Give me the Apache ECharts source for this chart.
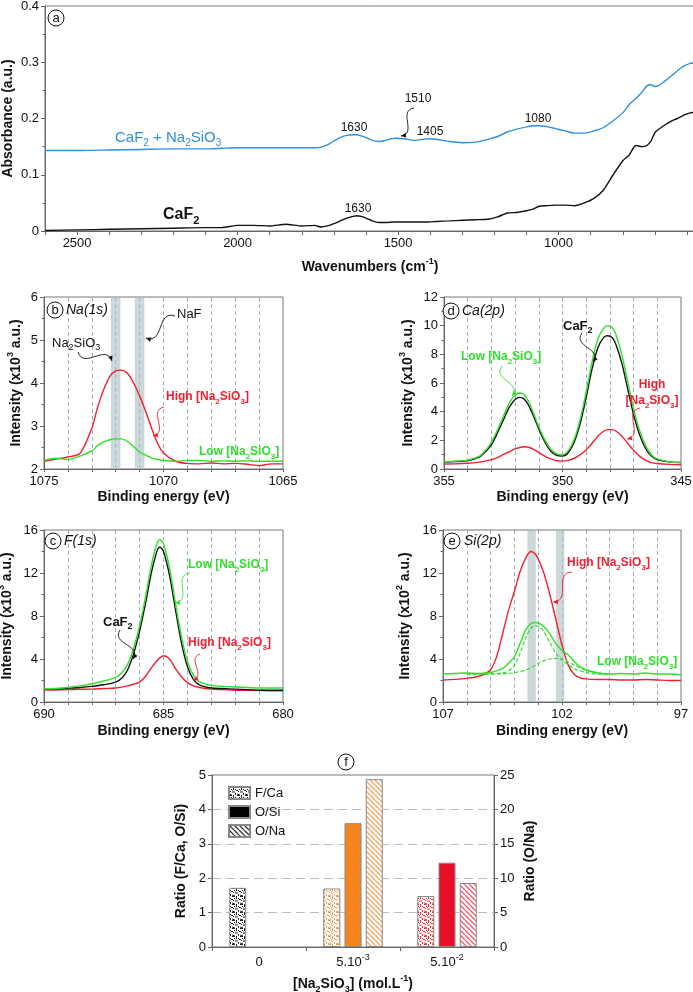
<!DOCTYPE html>
<html>
<head>
<meta charset="UTF-8">
<script src="https://cdn.jsdelivr.net/npm/echarts@6/dist/echarts.min.js"></script>
<style>
  html, body { margin: 0; padding: 0; background: #fff; }
  #main { width: 693px; height: 992px; }
</style>
</head>
<body>
<div id="main"></div>
<script>
// ---- panel a : FTIR ----
var a_wn = [2600, 2500, 2400, 2300, 2200, 2100, 2050, 2000, 1950, 1900, 1850, 1800, 1760, 1740, 1720, 1700, 1680, 1660, 1640, 1630, 1615, 1600, 1580, 1560, 1540, 1510, 1480, 1450, 1420, 1405, 1380, 1340, 1300, 1260, 1220, 1190, 1160, 1130, 1100, 1080, 1060, 1040, 1010, 980, 950, 920, 890, 860, 830, 800, 780, 760, 740, 725, 712, 700, 690, 670, 650, 630, 610, 590, 575];
var a_blue = [0.143, 0.143, 0.144, 0.145, 0.146, 0.146, 0.147, 0.148, 0.148, 0.148, 0.148, 0.148, 0.148, 0.149, 0.153, 0.160, 0.166, 0.170, 0.171, 0.171, 0.169, 0.166, 0.161, 0.159, 0.161, 0.165, 0.164, 0.161, 0.163, 0.164, 0.163, 0.159, 0.157, 0.158, 0.163, 0.168, 0.176, 0.181, 0.185, 0.187, 0.187, 0.186, 0.182, 0.178, 0.174, 0.174, 0.178, 0.184, 0.196, 0.210, 0.225, 0.235, 0.247, 0.258, 0.260, 0.257, 0.258, 0.266, 0.275, 0.285, 0.293, 0.298, 0.300];
var a_black = [0.001, 0.002, 0.003, 0.004, 0.005, 0.006, 0.006, 0.010, 0.010, 0.009, 0.012, 0.009, 0.010, 0.007, 0.009, 0.013, 0.018, 0.023, 0.026, 0.027, 0.026, 0.023, 0.018, 0.015, 0.015, 0.016, 0.016, 0.016, 0.016, 0.016, 0.017, 0.018, 0.019, 0.020, 0.021, 0.025, 0.032, 0.033, 0.036, 0.039, 0.044, 0.045, 0.046, 0.046, 0.045, 0.050, 0.058, 0.073, 0.100, 0.125, 0.135, 0.152, 0.150, 0.152, 0.160, 0.175, 0.180, 0.188, 0.195, 0.200, 0.206, 0.210, 0.211];
var a_labels = [2500, 2000, 1500, 1000];
var a_ticks = [2600, 2500, 2400, 2300, 2200, 2100, 2000, 1900, 1800, 1700, 1600, 1500, 1400, 1300, 1200, 1100, 1000, 900, 800, 700, 600];

// ---- panel b : Na(1s) ----
var b_e = [1075, 1074.5, 1074, 1073.5, 1073, 1072.75, 1072.5, 1072.25, 1072, 1071.75, 1071.5, 1071.25, 1071, 1070.75, 1070.5, 1070.25, 1070, 1069.5, 1069, 1068.5, 1068, 1067.5, 1067, 1066.5, 1066, 1065.5, 1065];
var b_high = [2.18, 2.23, 2.28, 2.36, 2.95, 3.45, 3.85, 4.15, 4.28, 4.30, 4.22, 4.0, 3.7, 3.35, 2.95, 2.6, 2.37, 2.18, 2.13, 2.12, 2.14, 2.12, 2.13, 2.11, 2.08, 2.12, 2.12];
var b_low = [2.2, 2.25, 2.22, 2.3, 2.42, 2.55, 2.63, 2.68, 2.70, 2.70, 2.64, 2.52, 2.4, 2.32, 2.26, 2.22, 2.2, 2.18, 2.2, 2.2, 2.18, 2.19, 2.18, 2.19, 2.18, 2.18, 2.18];
var b_bands = [[1072.2, 1071.8], [1071.2, 1070.8]];
var b_labels = [1075, 1070, 1065];

// ---- panel d : Ca(2p) ----
var d_e = [355, 354.5, 354, 353.5, 353.25, 353, 352.75, 352.5, 352.25, 352, 351.8, 351.6, 351.4, 351.2, 351, 350.75, 350.5, 350.25, 350, 349.75, 349.5, 349.25, 349, 348.75, 348.5, 348.25, 348.1, 347.9, 347.75, 347.5, 347.25, 347, 346.75, 346.5, 346.25, 346, 345.5, 345];
var d_caf2 = [0.5, 0.52, 0.58, 0.85, 1.2, 1.7, 2.5, 3.4, 4.3, 4.85, 5.0, 4.85, 4.35, 3.6, 2.8, 1.9, 1.25, 0.95, 0.9, 1.15, 1.9, 3.2, 5.0, 7.0, 8.5, 9.2, 9.3, 9.15, 8.7, 7.4, 5.6, 3.8, 2.4, 1.45, 0.9, 0.65, 0.5, 0.45];
var d_low = [0.5, 0.55, 0.62, 0.9, 1.3, 1.85, 2.7, 3.65, 4.6, 5.15, 5.3, 5.15, 4.6, 3.8, 2.95, 2.05, 1.4, 1.05, 1.0, 1.3, 2.1, 3.5, 5.4, 7.5, 9.1, 9.85, 10.0, 9.85, 9.4, 8.0, 6.1, 4.2, 2.7, 1.65, 1.0, 0.7, 0.5, 0.45];
var d_high = [0.35, 0.36, 0.4, 0.48, 0.55, 0.65, 0.8, 1.0, 1.2, 1.4, 1.5, 1.55, 1.5, 1.35, 1.15, 0.9, 0.7, 0.58, 0.55, 0.6, 0.75, 1.0, 1.35, 1.8, 2.3, 2.65, 2.75, 2.75, 2.65, 2.3, 1.8, 1.3, 0.9, 0.62, 0.45, 0.38, 0.32, 0.3];
var d_labels = [355, 350, 345];

// ---- panel c : F(1s) ----
var c_e = [690, 689.5, 689, 688.5, 688, 687.5, 687, 686.75, 686.5, 686.25, 686, 685.75, 685.5, 685.25, 685.15, 685, 684.75, 684.5, 684.25, 684, 683.75, 683.5, 683, 682.5, 682, 681.5, 681, 680.5, 680];
var c_caf2 = [1.2, 1.22, 1.28, 1.35, 1.45, 1.6, 1.85, 2.2, 3.0, 4.5, 6.6, 9.2, 12.1, 14.2, 14.4, 14.0, 11.8, 8.6, 5.5, 3.3, 2.1, 1.6, 1.3, 1.25, 1.2, 1.15, 1.1, 1.1, 1.1];
var c_low = [1.2, 1.25, 1.35, 1.5, 1.7, 1.95, 2.3, 2.7, 3.5, 5.0, 7.1, 9.8, 12.8, 14.9, 15.1, 14.7, 12.5, 9.2, 6.1, 3.8, 2.5, 1.9, 1.55, 1.45, 1.4, 1.35, 1.3, 1.3, 1.3];
var c_high = [1.1, 1.12, 1.15, 1.18, 1.2, 1.25, 1.3, 1.38, 1.5, 1.65, 1.85, 2.4, 3.2, 3.9, 4.1, 4.3, 4.0, 3.1, 2.35, 1.8, 1.5, 1.35, 1.2, 1.15, 1.1, 1.1, 1.08, 1.05, 1.05];
var c_labels = [690, 685, 680];

// ---- panel e : Si(2p) ----
var e_e = [107, 106.5, 106, 105.5, 105.25, 105, 104.75, 104.5, 104.25, 104, 103.75, 103.5, 103.3, 103.1, 102.9, 102.75, 102.5, 102.25, 102, 101.75, 101.5, 101.25, 101, 100.5, 100, 99.5, 99, 98.5, 98, 97.5, 97];
var e_high = [2.05, 2.1, 2.2, 2.4, 2.6, 3.0, 4.2, 6.3, 8.5, 10.3, 12.2, 13.5, 14.0, 13.7, 12.8, 11.9, 9.9, 7.6, 5.3, 3.5, 2.6, 2.25, 2.15, 2.1, 2.1, 2.05, 2.05, 2.1, 2.05, 2.0, 2.0];
var e_low = [2.6, 2.65, 2.7, 2.65, 2.7, 2.75, 2.9, 3.1, 3.6, 4.2, 5.5, 6.8, 7.3, 7.4, 7.25, 7.0, 6.3, 5.4, 4.8, 4.4, 3.8, 3.3, 3.0, 2.7, 2.6, 2.65, 2.6, 2.7, 2.6, 2.6, 2.5];
var e_de = [106, 105.5, 105, 104.5, 104.25, 104, 103.75, 103.5, 103.25, 103.1, 102.9, 102.75, 102.5, 102.25, 102, 101.75, 101.5, 101, 100.5, 100];
var e_fit1 = [2.6, 2.6, 2.62, 2.7, 2.9, 3.4, 4.6, 6.1, 7.0, 7.1, 6.9, 6.5, 5.5, 4.5, 3.9, 3.5, 3.1, 2.75, 2.6, 2.6];
var e_fit2 = [2.6, 2.6, 2.6, 2.62, 2.65, 2.72, 2.85, 3.0, 3.25, 3.45, 3.7, 3.85, 4.0, 4.05, 4.0, 3.75, 3.45, 2.95, 2.7, 2.6];
var e_bands = [[103.45, 103.1], [102.25, 101.9]];
var e_labels = [107, 102, 97];

// ---- panel f : ratios ----
var f_cat = ['0', '5.10^-3', '5.10^-2'];
var f_FCa = [1.72, 1.70, 1.48];
var f_OSi = [null, 3.6, 2.45];
var f_ONa = [null, 24.4, 9.3];

var FONT = 'Liberation Sans, Arial, Helvetica, sans-serif';
var BLUE = '#2f8fd8', RED = '#f0202f', GREEN = '#2fe02a', DASH = '#9fb0bd';

// rich text: _x subscript, ^x superscript
function mk(str) {
    var out = '{n|' + str.replace(/([_^])(-?\d)/g, function (m, t, d) {
        return '}{' + (t === '_' ? 's' : 'p') + '|' + d + '}{n|';
    }) + '}';
    return out.replace(/\{n\|\}/g, '');
}
function rich(size, color, weight, fstyle) {
    var lh = Math.round(size * 1.4);
    var base = { fontFamily: FONT, fontWeight: weight || 'normal', fontStyle: fstyle || 'normal', color: color, fill: color, lineHeight: lh };
    return {
        n: Object.assign({}, base, { fontSize: size, verticalAlign: 'middle' }),
        s: Object.assign({}, base, { fontSize: Math.round(size * 0.66), verticalAlign: 'bottom' }),
        p: Object.assign({}, base, { fontSize: Math.round(size * 0.66), verticalAlign: 'top' })
    };
}

// bar fill patterns
function tile(kind, fg, bg) {
    var c = document.createElement('canvas');
    var s = kind === 'hatch' ? 5 : 8;
    c.width = s; c.height = s;
    var g = c.getContext('2d');
    g.fillStyle = bg; g.fillRect(0, 0, s, s);
    g.strokeStyle = fg; g.lineWidth = kind === 'hatch' ? 1.3 : 1;
    g.beginPath();
    if (kind === 'hatch') {
        [-s, 0, s].forEach(function (k) { g.moveTo(k, 0); g.lineTo(k + s, s); });
    } else {
        [[0, 0.5, 3, 0.5], [4.5, 0, 4.5, 3], [6, 2, 8, 4], [0, 3, 2, 5], [3, 5, 6, 5], [6.5, 6, 6.5, 8], [0, 7, 3, 8], [2, 2, 3.5, 3.5]].forEach(function (q) {
            g.moveTo(q[0], q[1]); g.lineTo(q[2], q[3]);
        });
    }
    g.stroke();
    return { image: c, repeat: 'repeat' };
}
var noiseK = tile('noise', '#222', '#fff');
var fCaFill = [noiseK, tile('noise', '#f29a4c', '#fff'), tile('noise', '#ee2d3f', '#fff')];
var oSiFill = ['#000', '#f5841f', '#e81028'];
var hatchK = tile('hatch', '#333', '#fff');
var oNaFill = [hatchK, tile('hatch', '#f5a35c', '#fff'), tile('hatch', '#ef5563', '#fff')];

function pairs(xs, ys) { return xs.map(function (x, i) { return [x, ys[i]]; }); }

var gridBase = { show: true, borderColor: '#777', borderWidth: 1, backgroundColor: 'transparent', containLabel: false, outerBoundsMode: 'none' };
function grid(l, t, w, h) { return Object.assign({ left: l, top: t, width: w, height: h }, gridBase); }

var lineCol = { color: '#666', width: 1 };
var nameStyle = { fontSize: 14, fontWeight: 'bold', fontFamily: FONT, color: '#111', rich: rich(14, '#111', 'bold') };
var labStyle = { fontSize: 13, color: '#111', fontFamily: FONT, margin: 6 };
function plain(v) { return String(v); }

function yAx(gi, min, max, interval, name, gap, pos) {
    return {
        type: 'value', gridIndex: gi, min: min, max: max, interval: interval, position: pos || 'left',
        name: mk(name), nameLocation: 'middle', nameGap: gap, nameMoveOverlap: false, nameTextStyle: nameStyle,
        axisLine: { show: true, lineStyle: lineCol },
        axisTick: { show: true, length: 4, lineStyle: lineCol },
        minorTick: { show: true, splitNumber: 2, length: 2.5, lineStyle: lineCol },
        axisLabel: Object.assign({ formatter: plain }, labStyle),
        splitLine: { show: false }
    };
}
function xAx(gi, min, max, labels, gap) {
    return {
        type: 'value', gridIndex: gi, min: min, max: max, inverse: true, interval: 1,
        name: 'Binding energy (eV)', nameLocation: 'middle', nameGap: gap, nameMoveOverlap: false, nameTextStyle: nameStyle,
        axisLine: { show: true, lineStyle: lineCol },
        axisTick: { show: true, length: 3, lineStyle: lineCol },
        axisLabel: Object.assign({ customValues: labels, formatter: plain }, labStyle),
        splitLine: { show: true, showMinLine: false, showMaxLine: false, lineStyle: { color: DASH, type: [4, 3], width: 1 } }
    };
}
function ln(xi, yi, xs, ys, color, extra) {
    return Object.assign({
        type: 'line', xAxisIndex: xi, yAxisIndex: yi, data: pairs(xs, ys), showSymbol: false, smooth: 0.3,
        lineStyle: { color: color, width: 1.4 }, itemStyle: { color: color }, silent: true, z: 3
    }, extra || {});
}
function bands(list) {
    return {
        silent: true, itemStyle: { color: 'rgba(170,188,194,0.6)' },
        data: list.map(function (b) { return [{ xAxis: b[0] }, { xAxis: b[1] }]; })
    };
}

// annotation graphics
function txt(x, y, str, size, color, weight, align, fstyle) {
    return {
        type: 'text', x: x, y: y, z: 100,
        style: {
            text: mk(str), rich: rich(size, color, weight, fstyle), fill: color,
            font: (fstyle || 'normal') + ' ' + (weight || 'normal') + ' ' + size + 'px ' + FONT,
            align: align || 'left', textAlign: align || 'left', verticalAlign: 'middle', textVerticalAlign: 'middle'
        }
    };
}
function circ(cx, cy, ch) {
    return [
        { type: 'circle', z: 100, shape: { cx: cx, cy: cy, r: 8 }, style: { fill: '#fff', stroke: '#111', lineWidth: 1 } },
        { type: 'text', z: 101, x: cx, y: cy + 0.5, style: { text: ch, font: '13px ' + FONT, fill: '#111', align: 'center', textAlign: 'center', verticalAlign: 'middle', textVerticalAlign: 'middle' } }
    ];
}
function squig(x1, y1, x2, y2, color) {
    var dx = x2 - x1, dy = y2 - y1, L = Math.hypot(dx, dy), px = -dy / L, py = dx / L, a = L * 0.45;
    var c1x = x1 + dx * 0.3 + px * a, c1y = y1 + dy * 0.3 + py * a;
    var c2x = x1 + dx * 0.7 - px * a, c2y = y1 + dy * 0.7 - py * a;
    var ang = Math.atan2(y2 - c2y, x2 - c2x), h = 5, w = 2.3;
    var bx = x2 - Math.cos(ang) * h, by = y2 - Math.sin(ang) * h;
    return [
        { type: 'bezierCurve', z: 100, shape: { x1: x1, y1: y1, x2: x2, y2: y2, cpx1: c1x, cpy1: c1y, cpx2: c2x, cpy2: c2y }, style: { stroke: color, lineWidth: 0.9, fill: null } },
        { type: 'polygon', z: 100, shape: { points: [[x2, y2], [bx - Math.sin(ang) * w, by + Math.cos(ang) * w], [bx + Math.sin(ang) * w, by - Math.cos(ang) * w]] }, style: { fill: color } }
    ];
}

var g = [].concat(
    // a
    circ(56, 18, 'a'),
    txt(354, 128, '1630', 12, '#111', 'normal', 'center'),
    txt(418, 99, '1510', 12, '#111', 'normal', 'center'),
    squig(414, 108, 401, 136, '#111'),
    txt(430, 132, '1405', 12, '#111', 'normal', 'center'),
    txt(538, 119, '1080', 12, '#111', 'normal', 'center'),
    txt(358, 209, '1630', 12, '#111', 'normal', 'center'),
    txt(115, 138, 'CaF_2 + Na_2SiO_3', 15, BLUE, 'normal'),
    txt(163, 215, 'CaF_2', 16, '#111', 'bold'),
    // b
    circ(55, 310, 'b'),
    txt(66, 310, 'Na(1s)', 14, '#111', 'normal', 'left', 'italic'),
    txt(177, 314, 'NaF', 13, '#111', 'normal'),
    squig(175, 316, 146, 338, '#111'),
    txt(52, 343, 'Na_2SiO_3', 13, '#111', 'normal'),
    squig(78, 352, 112, 361, '#111'),
    txt(166, 397, 'High [Na_2SiO_3]', 12, RED, 'bold'),
    squig(164, 407, 153, 436, RED),
    txt(199, 452, 'Low [Na_2SiO_3]', 12, GREEN, 'bold'),
    // d
    circ(451, 311, 'd'),
    txt(462, 311, 'Ca(2p)', 14, '#111', 'normal', 'left', 'italic'),
    txt(563, 326, 'CaF_2', 13, '#111', 'bold'),
    squig(582, 333, 593, 362, '#111'),
    txt(461, 357, 'Low [Na_2SiO_3]', 12, GREEN, 'bold'),
    squig(502, 366, 512, 396, GREEN),
    txt(652, 385, 'High', 12, RED, 'bold', 'center'),
    txt(652, 401, '[Na_2SiO_3]', 12, RED, 'bold', 'center'),
    squig(640, 408, 627, 439, RED),
    // c
    circ(53, 541, 'c'),
    txt(64, 541, 'F(1s)', 14, '#111', 'normal', 'left', 'italic'),
    txt(188, 565, 'Low [Na_2SiO_3]', 12, GREEN, 'bold'),
    squig(190, 573, 175, 603, GREEN),
    txt(103, 622, 'CaF_2', 13, '#111', 'bold'),
    squig(120, 630, 133, 659, '#111'),
    txt(188, 643, 'High [Na_2SiO_3]', 12, RED, 'bold'),
    squig(200, 654, 193, 680, RED),
    // e
    circ(452, 541, 'e'),
    txt(464, 541, 'Si(2p)', 14, '#111', 'normal', 'left', 'italic'),
    txt(567, 563, 'High [Na_2SiO_3]', 12, RED, 'bold'),
    squig(572, 572, 553, 602, RED),
    txt(597, 662, 'Low [Na_2SiO_3]', 12, GREEN, 'bold'),
    // f
    circ(346, 762, 'f')
);

var chart = echarts.init(document.getElementById('main'), null, { renderer: 'canvas' });
chart.setOption({
    animation: false,
    backgroundColor: '#fff',
    textStyle: { fontFamily: FONT },
    grid: [grid(45, 6, 650, 225), grid(44, 297, 239, 172), grid(444, 297, 237, 172), grid(44, 530, 239, 172), grid(443, 530, 238, 172), grid(212, 775, 282, 172)],
    xAxis: [
        {
            type: 'value', gridIndex: 0, min: 575, max: 2600, inverse: true,
            name: mk('Wavenumbers (cm^-1)'), nameLocation: 'middle', nameGap: 26, nameMoveOverlap: false, nameTextStyle: nameStyle,
            axisLine: { show: true, lineStyle: lineCol },
            axisTick: { show: true, length: 4, customValues: a_ticks, lineStyle: lineCol },
            axisLabel: Object.assign({ customValues: a_labels, formatter: plain }, labStyle),
            splitLine: { show: false }
        },
        xAx(1, 1065, 1075, b_labels, 21),
        xAx(2, 345, 355, d_labels, 21),
        xAx(3, 680, 690, c_labels, 22),
        xAx(4, 97, 107, e_labels, 22),
        {
            type: 'category', gridIndex: 5, data: f_cat,
            name: mk('[Na_2SiO_3] (mol.L^-1)'), nameLocation: 'middle', nameGap: 27, nameMoveOverlap: false, nameTextStyle: nameStyle,
            axisLine: { show: true, lineStyle: lineCol },
            axisTick: { show: true, length: 4, lineStyle: lineCol },
            axisLabel: Object.assign({ interval: 0, formatter: function (v) { return mk(v); }, rich: rich(13, '#111', 'normal') }, labStyle),
            splitLine: { show: false }
        }
    ],
    yAxis: [
        yAx(0, 0, 0.4, 0.1, 'Absorbance (a.u.)', 27),
        yAx(1, 2, 6, 1, 'Intensity (x10^3 a.u.)', 18),
        yAx(2, 0, 12, 2, 'Intensity (x10^3 a.u.)', 26),
        yAx(3, 0, 16, 4, 'Intensity (x10^3 a.u.)', 27),
        yAx(4, 0, 16, 4, 'Intensity (x10^2 a.u.)', 28),
        Object.assign(yAx(5, 0, 5, 1, 'Ratio (F/Ca, O/Si)', 21), {
            minorTick: { show: false },
            splitLine: { show: true, showMinLine: false, showMaxLine: false, lineStyle: { color: '#b4bec8', type: [9, 5], width: 1 } }
        }),
        Object.assign(yAx(5, 0, 25, 5, 'Ratio (O/Na)', 26, 'right'), { minorTick: { show: false } })
    ],
    legend: {
        data: ['F/Ca', 'O/Si', 'O/Na'], orient: 'vertical', left: 223, top: 781,
        itemWidth: 21, itemHeight: 12, itemGap: 5, icon: 'rect',
        textStyle: { fontSize: 13, fontFamily: FONT, color: '#111' }
    },
    graphic: { elements: g },
    series: [
        ln(0, 0, a_wn, a_blue, BLUE, { smooth: 0.2 }),
        ln(0, 0, a_wn, a_black, '#111', { smooth: 0.2 }),

        ln(1, 1, b_e, b_high, RED, { markArea: bands(b_bands) }),
        ln(1, 1, b_e, b_low, GREEN),

        ln(2, 2, d_e, d_high, RED),
        ln(2, 2, d_e, d_caf2, '#111'),
        ln(2, 2, d_e, d_low, GREEN),

        ln(3, 3, c_e, c_high, RED),
        ln(3, 3, c_e, c_caf2, '#111'),
        ln(3, 3, c_e, c_low, GREEN),

        ln(4, 4, e_e, e_high, RED, { markArea: bands(e_bands) }),
        ln(4, 4, e_e, e_low, GREEN),
        ln(4, 4, e_de, e_fit1, GREEN, { lineStyle: { color: GREEN, width: 1.2, type: [4, 2] } }),
        ln(4, 4, e_de, e_fit2, GREEN, { lineStyle: { color: GREEN, width: 1.2, type: [4, 2] } }),

        {
            type: 'bar', name: 'F/Ca', xAxisIndex: 5, yAxisIndex: 5, barWidth: 17, barGap: '25%',
            itemStyle: { color: noiseK, borderColor: '#888', borderWidth: 1 },
            data: f_FCa.map(function (v, i) { return v === null ? '-' : { value: v, itemStyle: { color: fCaFill[i] } }; })
        },
        {
            type: 'bar', name: 'O/Si', xAxisIndex: 5, yAxisIndex: 5, barWidth: 17, barGap: '25%',
            itemStyle: { color: '#000', borderColor: '#888', borderWidth: 1 },
            data: f_OSi.map(function (v, i) { return v === null ? '-' : { value: v, itemStyle: { color: oSiFill[i] } }; })
        },
        {
            type: 'bar', name: 'O/Na', xAxisIndex: 5, yAxisIndex: 6, barWidth: 17, barGap: '25%',
            itemStyle: { color: hatchK, borderColor: '#888', borderWidth: 1 },
            data: f_ONa.map(function (v, i) { return v === null ? '-' : { value: v, itemStyle: { color: oNaFill[i] } }; })
        }
    ]
});
</script>
</body>
</html>
